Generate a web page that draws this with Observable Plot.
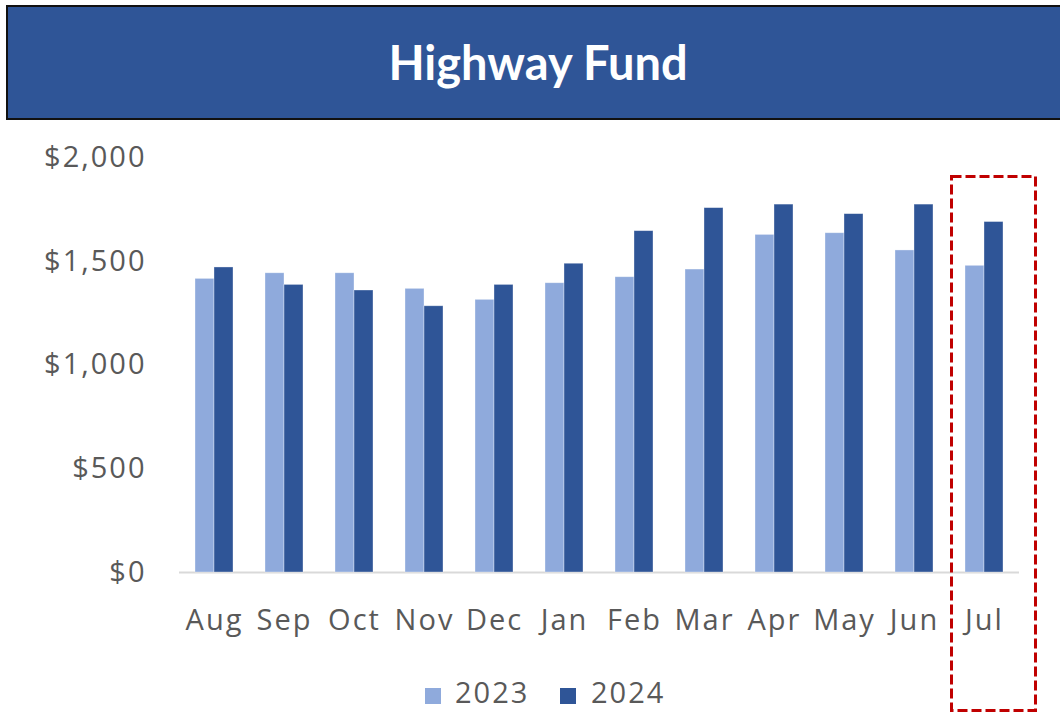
<!DOCTYPE html>
<html>
<head>
<meta charset="utf-8">
<script src="https://cdn.jsdelivr.net/npm/d3@7"></script>
<script src="https://cdn.jsdelivr.net/npm/@observablehq/plot@0.6"></script>
<style>
  html, body { margin: 0; padding: 0; background: #fff; width: 1060px; height: 712px; overflow: hidden; position: relative; }
  #banner { position: absolute; left: 6px; top: 5px; width: 1080px; height: 111px; background: #2F5597; border: 2px solid #111; }
  #title { position: absolute; left: 0; top: 39px; width: 1076px; text-align: center; color: #fff; font-family: Lato, "Open Sans", sans-serif; font-weight: 700; font-size: 47px; line-height: 46px; }
  #chart { position: absolute; left: 0; top: 125px; }
  .leg-sw { position: absolute; width: 16px; height: 16px; top: 688px; }
  .leg-tx { position: absolute; top: 681px; font-family: "Open Sans", sans-serif; font-size: 29px; line-height: 22px; color: #595959; letter-spacing: 2px; }
  #hl { position: absolute; left: 0; top: 0; pointer-events: none; }
</style>
</head>
<body>
<div id="banner"></div>
<div id="title">Highway Fund</div>
<div id="chart"></div>
<div id="legend"></div>
<svg id="hl" width="1060" height="712"><rect x="951.5" y="176.5" width="84" height="534" fill="none" stroke="#C00000" stroke-width="3" stroke-dasharray="10,4"/></svg>
<script>
const months = ["Aug","Sep","Oct","Nov","Dec","Jan","Feb","Mar","Apr","May","Jun","Jul"];
const years = ["2023","2024"];
const values2023 = [1415,1442,1442,1367,1314,1394,1423,1460,1627,1635,1552,1478];
const values2024 = [1470,1386,1359,1283,1386,1488,1645,1756,1773,1727,1773,1689];
const yTicks = [0,500,1000,1500,2000];
const colors = ["#8FAADC","#2F5597"];

const data = [];
months.forEach((m, i) => {
  data.push({month: m, year: years[0], value: values2023[i]});
  data.push({month: m, year: years[1], value: values2024[i]});
});

const plot = Plot.plot({
  width: 1060,
  height: 530,
  marginTop: 32,
  marginBottom: 83,
  marginLeft: 176,
  marginRight: 38,
  style: {fontFamily: "'Open Sans', sans-serif", fontSize: "29px", color: "#595959", letterSpacing: "2px", background: "transparent"},
  fx: {domain: months, padding: 0, axis: "bottom", tickSize: 0, tickPadding: 37, label: null},
  x: {domain: years, paddingInner: 0, paddingOuter: 0.7625, axis: null},
  y: {domain: [0, 2000], ticks: yTicks, tickSize: 0, tickPadding: 33, tickFormat: d => "$" + d3.format(",")(d), label: null},
  color: {domain: years, range: colors},
  marks: [
    Plot.ruleY([0], {stroke: "#d9d9d9", strokeWidth: 2}),
    Plot.barY(data, {fx: "month", x: "year", y: "value", fill: "year", stroke: "#ffffff", strokeOpacity: 0.45, strokeWidth: 0.75})
  ]
});
document.getElementById("chart").appendChild(plot);

const legend = document.getElementById("legend");
const legPos = [{sw: 425, tx: 455}, {sw: 560, tx: 591}];
years.forEach((y, i) => {
  const sw = document.createElement("div");
  sw.className = "leg-sw";
  sw.style.left = legPos[i].sw + "px";
  sw.style.background = colors[i];
  legend.appendChild(sw);
  const tx = document.createElement("div");
  tx.className = "leg-tx";
  tx.style.left = legPos[i].tx + "px";
  tx.textContent = y;
  legend.appendChild(tx);
});
</script>
</body>
</html>
